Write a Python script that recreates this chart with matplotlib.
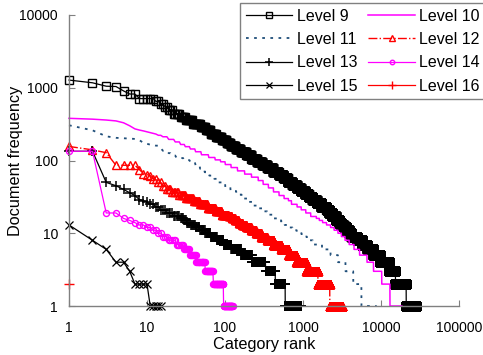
import numpy as np
import matplotlib
matplotlib.use("Agg")
import matplotlib.pyplot as plt
from matplotlib.ticker import FixedLocator, FixedFormatter, NullLocator

plt.rcParams["font.family"] = ["Liberation Sans", "DejaVu Sans"]

# ------------------------------------------------------------
# Rank / frequency data.
# head   = document frequency of the first ranks (one per rank)
# tail_f = later frequency levels, tail_end = last rank at that level
# ------------------------------------------------------------
l9_head = [1275, 1170, 1050, 1040, 905, 820, 820, 710, 710, 710, 710, 710]
l9_tail_f = [650, 600, 550, 500, 440, 400, 360, 320, 290, 260, 235, 210, 190, 175,
             160, 145, 130, 118, 106, 96, 87, 78, 70, 63, 57, 51, 46, 42, 38, 35,
             32, 29, 26, 23, 21, 19, 17, 15, 14, 13, 12, 11, 10, 9, 8, 7, 6, 5,
             4, 3, 2, 1]
l9_tail_end = [14, 16, 18, 21, 26, 31, 38, 48, 56, 65, 76, 90, 104, 117,
               136, 158, 187, 217, 256, 299, 347, 411, 486, 560, 634, 729, 832, 935, 1060, 1178,
               1318, 1496, 1714, 2000, 2170, 2370, 2620, 2920, 3100, 3310, 3560, 3850, 4180, 4900, 5700, 6700, 8000, 9800,
               12800, 15300, 21000, 28000]

l10_head = [380, 370, 360, 350, 330, 300, 272, 262, 255, 248, 242, 236, 231]
l10_tail_f = [222, 212, 195, 180, 166, 155, 144, 132, 120, 110, 102, 96, 88, 80,
              72, 65, 59, 53, 47, 42, 37, 33, 30, 28, 25, 23, 21, 19, 17, 16, 15,
              14, 13, 12, 11, 10, 9, 8, 7, 6, 5, 4, 3, 2, 1]
l10_tail_end = [15, 18, 22, 26, 30, 35, 41, 49, 61, 74, 87, 100, 119, 144,
                178, 218, 266, 307, 359, 417, 492, 571, 649, 710, 838, 946, 1084, 1253, 1480, 1615, 1780,
                2000, 2250, 2500, 2800, 3100, 3450, 3900, 4500, 5300, 6600, 8000, 10200, 13000, 18500]

l11_head = [305, 260, 215, 205, 202, 200, 198, 190, 175, 170]
l11_tail_f = [165, 160, 148, 136, 126, 117, 108, 101, 95, 86, 77, 69, 62, 56, 50,
              43, 38, 34, 30, 27, 24, 22, 20, 18, 16, 15, 14, 13, 12, 11, 10, 9,
              8, 7, 6, 5, 4, 3, 2, 1]
l11_tail_end = [12, 14, 15, 18, 20, 23, 29, 35, 41, 47, 54, 62, 72, 82, 100,
                117, 139, 163, 194, 225, 266, 302, 346, 404, 479, 526, 581, 647, 730, 830, 960, 1120,
                1330, 1750, 2250, 2800, 3500, 4400, 5600, 8800]

l12_head = [156, 140, 128, 86, 86, 86, 86, 75, 66, 64, 62]
l12_tail_f = [56, 50, 45, 41, 37, 34, 31, 28, 25, 22, 20, 18, 17, 16, 15, 14, 13,
              12, 11, 10, 9, 8, 7, 6, 5, 4, 3, 2, 1]
l12_tail_end = [13, 15, 17, 20, 25, 31, 39, 47, 59, 75, 90, 110, 121, 133, 148, 166, 187,
                214, 247, 288, 342, 415, 520, 650, 820, 1100, 1550, 2200, 3200]

l13_head = [134, 134, 50, 45, 40, 36, 33, 29, 28, 27]
l13_tail_f = [25, 23, 21, 19, 17, 16, 15, 14, 13, 12, 11, 10, 9, 8, 7, 6, 5, 4, 3, 2, 1]
l13_tail_end = [12, 14, 17, 21, 26, 29, 32, 36, 41, 47, 55, 65, 78, 95, 120, 160, 220,
                330, 440, 590, 950]

l14_head = [134, 134, 19, 19, 16, 15, 14, 13, 13, 12, 12]
l14_tail_f = [11, 10, 9, 8, 7, 6, 5, 4, 3, 2, 1]
l14_tail_end = [13, 15, 18, 23, 29, 35, 42, 55, 70, 95, 125]

l15_values = [13, 8, 6, 4, 4, 3, 2, 2, 2, 2, 1, 1, 1, 1, 1]
l16_values = [2]

x_ticks = [1, 10, 100, 1000, 10000, 100000]
y_ticks = [1, 10, 100, 1000, 10000]


def expand(head, tail_f=(), tail_end=()):
    counts = np.diff([len(head)] + list(tail_end))
    freq = np.concatenate([np.array(head, float), np.repeat(np.array(tail_f, float), counts)])
    rank = np.arange(1, len(freq) + 1)
    return rank, freq


series = [
    ("Level 9", expand(l9_head, l9_tail_f, l9_tail_end),
     dict(color="black", lw=0.9, marker="s", ms=5.2, mfc="none", mew=1.0)),
    ("Level 10", expand(l10_head, l10_tail_f, l10_tail_end),
     dict(color="#FF00FF", lw=1.1)),
    ("Level 11", expand(l11_head, l11_tail_f, l11_tail_end),
     dict(color="#1F4E79", lw=1.3, linestyle=(0, (1.5, 3)))),
    ("Level 12", expand(l12_head, l12_tail_f, l12_tail_end),
     dict(color="red", lw=1.0, linestyle="-.", marker="^", ms=6.3, mfc="none", mew=1.0)),
    ("Level 13", expand(l13_head, l13_tail_f, l13_tail_end),
     dict(color="black", lw=0.9, marker="+", ms=7.5, mew=1.1)),
    ("Level 14", expand(l14_head, l14_tail_f, l14_tail_end),
     dict(color="#FF00FF", lw=0.9, marker="o", ms=4.3, mfc="none", mew=1.0)),
    ("Level 15", expand(l15_values),
     dict(color="black", lw=0.9, marker="x", ms=5.8, mew=0.9)),
    ("Level 16", expand(l16_values),
     dict(color="red", lw=0.9, marker="+", ms=7, mew=1.0)),
]

fig = plt.figure(figsize=(4.83, 3.55), dpi=100)
ax = fig.add_axes([69 / 483, 1 - 306 / 355, 390 / 483, 291 / 355])

lines = {}
for name, (rank, freq), style in series:
    ln, = ax.plot(rank, freq, label=name, clip_on=False, **style)
    lines[name] = ln

ax.set_xscale("log")
ax.set_yscale("log")
ax.set_xlim(1, 100000)
ax.set_ylim(1, 10000)

ax.xaxis.set_major_locator(FixedLocator(x_ticks))
ax.xaxis.set_major_formatter(FixedFormatter([str(v) for v in x_ticks]))
ax.yaxis.set_major_locator(FixedLocator(y_ticks))
ax.yaxis.set_major_formatter(FixedFormatter([str(v) for v in y_ticks]))
ax.xaxis.set_minor_locator(NullLocator())
ax.yaxis.set_minor_locator(NullLocator())

for side in ["top", "right"]:
    ax.spines[side].set_visible(False)
for side in ["left", "bottom"]:
    ax.spines[side].set_color("#808080")
    ax.spines[side].set_linewidth(1.0)

ax.tick_params(axis="x", direction="in", length=4, color="#808080", labelsize=10, pad=11)
ax.tick_params(axis="y", direction="in", length=4, color="#808080", labelsize=10, pad=8)

ax.set_xlabel("Category rank", fontsize=11.7)
ax.set_ylabel("Document frequency", fontsize=11.7)
ax.xaxis.set_label_coords(0.5, -0.108)
ax.yaxis.set_label_coords(-0.118, 0.5)

order = ["Level 9", "Level 11", "Level 13", "Level 15",
         "Level 10", "Level 12", "Level 14", "Level 16"]
leg = ax.legend([lines[n] for n in order], order, ncol=2, loc="upper left",
                bbox_to_anchor=(240 / 483, 1 - 3 / 355), bbox_transform=fig.transFigure,
                fontsize=11.5, numpoints=1, markerscale=0.75, handlelength=2.9,
                handletextpad=0.3, columnspacing=0.7, labelspacing=0.52, borderpad=0.35,
                borderaxespad=0, fancybox=False, framealpha=1, edgecolor="#808080")
leg.get_frame().set_linewidth(1.0)

fig.savefig("out.png", dpi=100)
